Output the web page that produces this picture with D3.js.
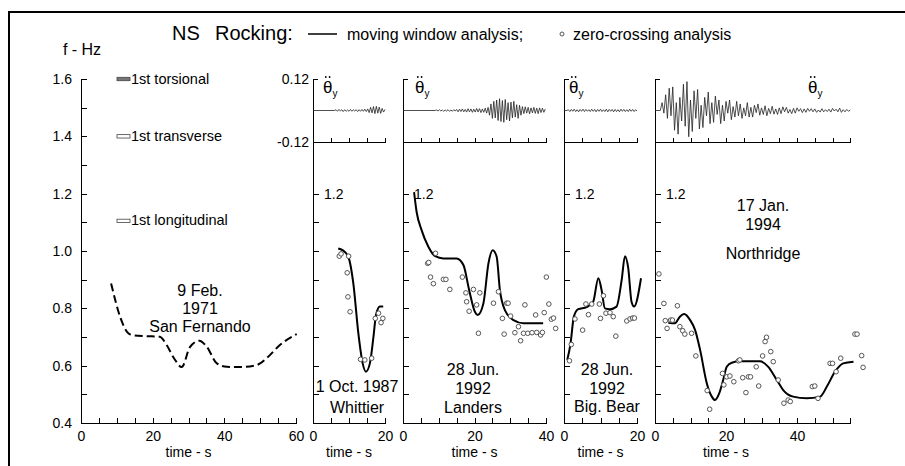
<!DOCTYPE html>
<html>
<head>
<meta charset="utf-8">
<style>
body { margin: 0; background: #fff; }
svg { display: block; font-family: "Liberation Sans", Arial, Helvetica, sans-serif; }
.axis path, .axis line { stroke: #000; stroke-width: 1; fill: none; shape-rendering: crispEdges; }
.axis text { font-size: 14px; fill: #000; font-family: "Liberation Sans", Arial, sans-serif; }
.mw { fill: none; stroke: #000; stroke-width: 2; }
.zc { fill: #fff; stroke: #555; stroke-width: 1; }
.wave { fill: none; stroke: #222; stroke-width: 0.8; }
.lbl { font-size: 16px; fill: #000; text-anchor: middle; }
</style>
</head>
<body>
<svg width="905" height="466"></svg>
<script src="https://d3js.org/d3.v7.min.js"></script>
<script>

// ---- values ----
var freqTicks = [0.4, 0.5, 0.6, 0.7, 0.8, 0.9, 1.0, 1.1, 1.2, 1.3, 1.4, 1.5, 1.6];
var freqLabels = [0.4, 0.6, 0.8, 1.0, 1.2, 1.4, 1.6];
var thetaLabels = [-0.12, 0.12];

var modeNames = ["1st torsional", "1st transverse", "1st longitudinal"];
var modeFreqs = [1.6, 1.4, 1.105];

// [time s, frequency Hz]
var sanFernandoMW = [[8.4,0.887],[10.9,0.771],[13.2,0.713],[14.6,0.706],[18,0.703],[22,0.701],[23.9,0.672],[26,0.625],[28.1,0.595],[30.4,0.665],[33,0.687],[35.1,0.666],[37.9,0.608],[40.7,0.596],[44.4,0.595],[49,0.602],[51.8,0.626],[55.5,0.672],[60.2,0.71]];

var whittierMW = [[7.0,1.009],[8.2,1.003],[9.8,0.98],[11.2,0.887],[12.6,0.713],[13.8,0.608],[14.7,0.579],[15.8,0.608],[16.8,0.701],[17.5,0.777],[18.6,0.806],[19.5,0.806]];
var whittierZC = [[7.3,0.982],[7.8,0.99],[9.9,0.982],[9.5,0.924],[9.7,0.84],[10.3,0.788],[13.2,0.622],[14.4,0.62],[16.3,0.626],[17.3,0.765],[18.2,0.783],[18.9,0.75],[19.4,0.765]];

var landersMW = [[3.1,1.205],[3.8,1.137],[5.2,1.073],[7.1,1.015],[9.0,0.982],[11.3,0.974],[15,0.974],[16.9,0.951],[18.5,0.864],[20.1,0.788],[20.9,0.777],[22.5,0.818],[23.9,0.957],[25.1,1.003],[26.2,0.98],[27.1,0.864],[28.5,0.794],[30.9,0.759],[33.7,0.748],[39.2,0.748]];
var landersZC = [[6.9,0.957],[7.2,0.96],[9.1,0.992],[7.7,0.909],[8.5,0.886],[11.3,0.901],[12.0,0.901],[13.1,0.866],[16.6,0.909],[17.6,0.854],[19.7,0.866],[17.8,0.823],[18.5,0.79],[20.6,0.812],[21.5,0.854],[21.1,0.713],[25.3,0.818],[26.7,0.858],[27.8,0.765],[29,0.818],[29.4,0.818],[30.1,0.773],[28.3,0.71],[31.3,0.715],[32.3,0.736],[32.9,0.687],[33.7,0.713],[34.1,0.812],[34.9,0.713],[36.1,0.715],[37.1,0.777],[37.4,0.716],[38.5,0.707],[39.0,0.716],[39.5,0.785],[40.1,0.909],[40.8,0.815],[41.5,0.762],[42.1,0.766],[42.7,0.73]];

var bigBearMW = [[0.9,0.62],[1.8,0.678],[2.7,0.771],[3.9,0.797],[6.2,0.804],[8.0,0.823],[9.4,0.905],[10.3,0.864],[11.2,0.8],[12.6,0.797],[14.4,0.806],[15.8,0.899],[16.7,0.982],[17.6,0.94],[18.5,0.823],[19.2,0.806],[21.1,0.905]];
var bigBearZC = [[1.5,0.617],[2.0,0.674],[3.0,0.763],[5.1,0.724],[6.0,0.815],[6.7,0.778],[7.6,0.815],[9.7,0.815],[10.0,0.765],[10.8,0.844],[11.5,0.783],[12.6,0.785],[13.5,0.771],[14.2,0.703],[17.2,0.756],[18.1,0.763],[18.8,0.766],[19.3,0.766]];

var northridgeMW = [[3.75,0.75],[5.6,0.748],[7.0,0.771],[8.2,0.78],[9.9,0.759],[11.3,0.724],[12.7,0.655],[14.6,0.538],[16.0,0.492],[16.9,0.48],[18.1,0.504],[19.2,0.55],[20.2,0.596],[21.6,0.61],[24,0.615],[29.6,0.615],[31.9,0.596],[34.3,0.55],[36.1,0.515],[38.9,0.492],[42.7,0.486],[46.5,0.492],[48.4,0.527],[50.7,0.579],[53,0.608],[55.9,0.614]];
var northridgeZC = [[1.1,0.92],[2.5,0.817],[2.9,0.757],[3.4,0.73],[4.4,0.759],[4.9,0.759],[6.3,0.809],[7.0,0.736],[7.8,0.722],[8.4,0.71],[10.3,0.713],[11.5,0.634],[14.7,0.513],[15.4,0.448],[19.0,0.573],[19.4,0.533],[20.2,0.561],[21.1,0.564],[22.2,0.544],[23.5,0.617],[23.9,0.62],[24.7,0.558],[25.6,0.506],[26.3,0.561],[26.9,0.561],[28.5,0.596],[29.2,0.529],[30.3,0.634],[31,0.684],[31.4,0.699],[32.6,0.649],[33.3,0.614],[34.7,0.55],[36.3,0.469],[37.5,0.48],[38.1,0.475],[44.3,0.527],[45,0.529],[45.9,0.486],[49.3,0.608],[50,0.608],[51,0.579],[52.3,0.626],[56.3,0.71],[56.9,0.71],[58.2,0.635],[58.6,0.594]];

// rocking acceleration records: successive peaks (rad/s2), one every `step` s from `start`
var whittierTheta = { start: 6, step: 0.4, values: [0, 0.003, -0.003, 0.004, -0.002, 0.003, -0.004, 0.003, -0.003, 0.002, -0.003, 0.004, -0.003, 0.003, -0.002, 0.003, -0.004, 0.003, -0.003, 0.004, -0.003, 0.005, -0.004, 0.006, -0.008, 0.012, -0.009, 0.015, -0.012, 0.016, -0.010, 0.013, -0.011, 0.008, -0.006, 0.004] };
var landersTheta = { start: 9, step: 0.4, values: [0, 0.002, -0.002, 0.003, -0.002, 0.002, -0.003, 0.002, -0.002, 0.003, -0.003, 0.002, -0.003, 0.003, -0.002,
  0.004, -0.005, 0.005, -0.004, 0.006, -0.005, 0.004, -0.006, 0.007, -0.005, 0.006, -0.007, 0.005, -0.006, 0.008, -0.006, 0.007, -0.008, 0.006, -0.007, 0.009, -0.010, 0.012,
  -0.018, 0.025, -0.03, 0.035, -0.028, 0.04, -0.038, 0.045, -0.042, 0.038, -0.045, 0.042, -0.035, 0.03, -0.04, 0.032, -0.028, 0.035, -0.025, 0.022, -0.03, 0.02, -0.018, 0.015,
  -0.012, 0.014, -0.01, 0.012, -0.013, 0.01, -0.009, 0.012, -0.011, 0.009, -0.012, 0.01, -0.008, 0.009, -0.007, 0.006] };
var bigBearTheta = { start: 0.8, step: 0.4, values: [0, 0.003, -0.004, 0.004, -0.003, 0.005, -0.004, 0.003, -0.005, 0.004, -0.003, 0.005, -0.004, 0.004, -0.003, 0.003, -0.004, 0.005, -0.003, 0.004, -0.005, 0.004, -0.003, 0.005, -0.004, 0.003, -0.004, 0.005, -0.005, 0.004, -0.003, 0.004, -0.005, 0.004, -0.004, 0.003, -0.005, 0.005, -0.003, 0.004, -0.004, 0.003, -0.004, 0.005, -0.003, 0.004, -0.004, 0.003, -0.002] };
var northridgeTheta = { start: 1.5, step: 0.5, values: [0, 0.03, -0.01, 0.06, -0.03, 0.085, -0.02, 0.09, -0.075, 0.03, -0.09, 0.05, -0.04, 0.10, -0.06, 0.11, -0.10, 0.04, -0.08, 0.075, -0.03, 0.08, -0.07, 0.02, -0.065, 0.05, -0.02, 0.07, -0.05, 0.03, -0.045, 0.055, -0.015, 0.04, -0.05, 0.02, -0.04, 0.035, -0.01, 0.04, -0.035, 0.015, -0.025, 0.035, -0.02, 0.025, -0.03, 0.01, -0.02, 0.03, -0.025, 0.012, -0.025, 0.02, -0.008, 0.025, -0.018, 0.01, -0.015, 0.018, -0.02, 0.008, -0.012, 0.016, -0.014, 0.006, -0.015, 0.01, -0.012, 0.014, -0.005, 0.012, -0.01, 0.004, -0.012, 0.008, -0.01, 0.01, -0.003, 0.007, -0.008, 0.006, -0.007, 0.008, -0.003, 0.007, -0.005, 0.006, -0.007, 0.002, -0.006, 0.007, -0.005, 0.003, -0.004, 0.005, -0.006, 0.008, -0.002, 0.005, -0.005, 0.009, -0.007, 0.003, -0.005, 0.004, -0.003, 0.002] };

var eventText = [["9 Feb.", "1971", "San Fernando"], ["1 Oct. 1987", "Whittier"], ["28 Jun.", "1992", "Landers"], ["28 Jun.", "1992", "Big. Bear"], ["17 Jan.", "1994", "Northridge"]];

// ---- layout ----
var svg = d3.select("svg");

svg.append("path").attr("d", "M9,466V12H905")
  .attr("fill", "none").attr("stroke", "#000").attr("stroke-width", 2);

var yF = d3.scaleLinear().domain([0.4, 1.6]).range([423, 79]);
var yTh = d3.scaleLinear().domain([-0.12, 0.12]).range([142, 79]);

var panels = [
  { x0: 81,  x1: 296,   tMax: 60, labels: [0, 20, 40, 60], mw: sanFernandoMW, zc: [], dashed: true,
    text: { x: 200, y: [296, 314, 332] } },
  { x0: 313, x1: 385,   tMax: 20, labels: [0, 20], mw: whittierMW, zc: whittierZC, theta: whittierTheta, thetaPos: [323, 93],
    text: { x: 357, y: [392, 413] } },
  { x0: 403, x1: 546,   tMax: 40, labels: [0, 20, 40], mw: landersMW, zc: landersZC, theta: landersTheta, thetaPos: [415, 93],
    text: { x: 473, y: [375, 394, 413] } },
  { x0: 564, x1: 637,   tMax: 20, labels: [0, 20], mw: bigBearMW, zc: bigBearZC, theta: bigBearTheta, thetaPos: [569, 93],
    text: { x: 607, y: [375, 394, 412] } },
  { x0: 655, x1: 850.3, tMax: 55, labels: [0, 20, 40], mw: northridgeMW, zc: northridgeZC, theta: northridgeTheta, thetaPos: [808, 93],
    text: { x: 763, y: [211, 230, 259] } }
];

function near(a, b) { return Math.abs(a - b) < 1e-6; }

panels.forEach(function(p, i) {
  var x = d3.scaleLinear().domain([0, p.tMax]).range([p.x0, p.x1]);
  var g = svg.append("g");
  var tTicks = d3.range(0, p.tMax + 0.01, 5);

  // time axis
  g.append("g").attr("class", "axis").attr("transform", "translate(0,423)")
    .call(d3.axisBottom(x).tickValues(tTicks).tickSizeInner(-5).tickSizeOuter(0).tickPadding(8)
      .tickFormat(function(d) { return p.labels.indexOf(d) >= 0 ? d : ""; }));
  g.append("text").attr("class", "lbl").style("font-size", "14px")
    .attr("x", (x(0) + x(p.labels[p.labels.length - 1])) / 2).attr("y", 457).text("time - s");

  // frequency axis
  if (i === 0) {
    g.append("g").attr("class", "axis").attr("transform", "translate(" + p.x0 + ",0)")
      .call(d3.axisLeft(yF).tickValues(freqTicks).tickSizeInner(-6).tickSizeOuter(0).tickPadding(9)
        .tickFormat(function(d) { return freqLabels.some(function(v) { return near(v, d); }) ? d.toFixed(1) : ""; }));
  } else {
    g.append("g").attr("class", "axis").attr("transform", "translate(" + p.x0 + ",0)")
      .call(d3.axisRight(yF).tickValues(freqTicks.filter(function(d) { return d <= 1.2001; }))
        .tickSizeInner(6).tickSizeOuter(0).tickPadding(5)
        .tickFormat(function(d) { return near(d, 1.2) ? "1.2" : ""; }));
  }

  // moving window curve
  var line = d3.line().x(function(d) { return x(d[0]); }).y(function(d) { return yF(d[1]); })
    .curve(d3.curveMonotoneX);
  var path = g.append("path").datum(p.mw).attr("class", "mw").attr("d", line);
  if (p.dashed) path.attr("stroke-dasharray", "8,4");

  // zero crossing points
  g.selectAll("circle.zc").data(p.zc).enter().append("circle").attr("class", "zc")
    .attr("cx", function(d) { return x(d[0]); }).attr("cy", function(d) { return yF(d[1]); }).attr("r", 2.3);

  // event label
  p.text.y.forEach(function(yy, k) {
    g.append("text").attr("class", "lbl").attr("x", p.text.x).attr("y", yy).text(eventText[i][k]);
  });

  // rocking acceleration inset
  if (p.theta) {
    var ax = g.append("g").attr("class", "axis");
    ax.append("g").attr("transform", "translate(0,142)")
      .call(d3.axisBottom(x).tickValues(tTicks).tickSizeInner(-4).tickSizeOuter(0).tickFormat(""));
    ax.append("g").attr("transform", "translate(" + p.x0 + ",0)")
      .call(d3.axisLeft(yTh).tickValues(thetaLabels).tickSizeInner(-5).tickSizeOuter(0).tickPadding(4)
        .tickFormat(function(d) { return i === 1 ? d.toFixed(2) : ""; }));
    var pts = [[0, 0]].concat(p.theta.values.map(function(v, k) { return [p.theta.start + k * p.theta.step, v]; }));
    g.append("path").datum(pts).attr("class", "wave")
      .attr("d", d3.line().x(function(d) { return x(d[0]); }).y(function(d) { return yTh(d[1]); }));

    // theta double-dot with subscript y
    var tx = p.thetaPos[0], ty = p.thetaPos[1];
    var th = g.append("text").attr("x", tx).attr("y", ty).style("font-size", "17px");
    th.append("tspan").text("\u03B8");
    th.append("tspan").attr("dy", 4).style("font-size", "10px").text("y");
    [2.8, 6.6].forEach(function(dx) {
      g.append("circle").attr("cx", tx + dx).attr("cy", ty - 16).attr("r", 0.9).attr("fill", "#000");
    });
  }
});

// mode reference bars
var mx = 117;
modeNames.forEach(function(name, k) {
  var yy = yF(modeFreqs[k]);
  svg.append("rect").attr("x", mx).attr("y", yy - 1.7).attr("width", 13).attr("height", 3.4)
    .attr("fill", k === 0 ? "#777" : "#fff").attr("stroke", "#444").attr("stroke-width", 0.8);
  svg.append("text").attr("x", mx + 14).attr("y", yy + 4.5).style("font-size", "14.5px").text(name);
});

// axis title and header
svg.append("text").attr("x", 82).attr("y", 55).attr("text-anchor", "middle").style("font-size", "16px").text("f - Hz");
svg.append("text").attr("x", 172).attr("y", 40).style("font-size", "20px").text("NS");
svg.append("text").attr("x", 215).attr("y", 40).style("font-size", "20px").text("Rocking:");
svg.append("line").attr("x1", 308).attr("x2", 337).attr("y1", 34).attr("y2", 34).attr("stroke", "#000").attr("stroke-width", 1.5);
svg.append("text").attr("x", 347).attr("y", 40).style("font-size", "16px").text("moving window analysis;");
svg.append("circle").attr("class", "zc").attr("cx", 562).attr("cy", 34).attr("r", 2);
svg.append("text").attr("x", 573).attr("y", 40).style("font-size", "16px").text("zero-crossing analysis");

</script>
</body>
</html>
